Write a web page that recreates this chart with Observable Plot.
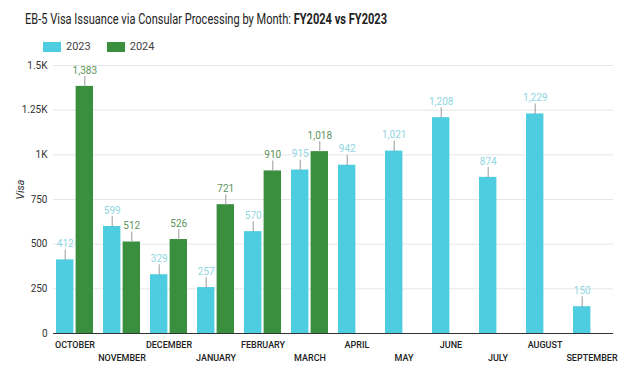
<!DOCTYPE html>
<html>
<head>
<meta charset="utf-8">
<script src="https://cdn.jsdelivr.net/npm/d3@7"></script>
<script src="https://cdn.jsdelivr.net/npm/@observablehq/plot@0.6"></script>
<style>
  body { margin: 0; background: #fff; font-family: Roboto, "Noto Sans", sans-serif; }
  #wrap { position: relative; width: 626px; height: 380px; overflow: hidden; }
  #title { position: absolute; left: 25px; top: 10px; font-size: 15.5px; color: #222; white-space: nowrap; transform-origin: left top; }
  #title b { font-weight: 700; }
  #legend { position: absolute; left: 43px; top: 40px; font-size: 11px; color: #444; display: flex; align-items: center; }
  .sw { display: inline-block; width: 18px; height: 10px; margin-right: 5px; }
  .item { display: flex; align-items: center; margin-right: 16px; }
  #chart { position: absolute; left: 0; top: 55px; }
</style>
</head>
<body>
<div id="wrap">
  <div id="title">EB-5 Visa Issuance via Consular Processing by Month: <b>FY2024 vs FY2023</b></div>
  <div id="legend">
    <div class="item"><span class="sw" style="background:#4ecde0"></span>2023</div>
    <div class="item"><span class="sw" style="background:#3a8f3f"></span>2024</div>
  </div>
  <div id="chart"></div>
</div>
<script>
const months = ["OCTOBER","NOVEMBER","DECEMBER","JANUARY","FEBRUARY","MARCH","APRIL","MAY","JUNE","JULY","AUGUST","SEPTEMBER"];
const series = ["2023","2024"];
const v2023 = [412, 599, 329, 257, 570, 915, 942, 1021, 1208, 874, 1229, 150];
const v2024 = [1383, 512, 526, 721, 910, 1018, null, null, null, null, null, null];
const yTicks = [0, 250, 500, 750, 1000, 1250, 1500];
const yTickLabels = ["0", "250", "500", "750", "1K", "1.25K", "1.5K"];

const colors = ["#4ecde0", "#3a8f3f"];
const labelColors = ["#8fd6e2", "#5d935c"];

const W = 626, ML = 53, MR = 13, PI = 0.21, PO = 0.05, GAP = 1;
const bw = d3.scaleBand(months, [ML, W - MR]).paddingInner(PI).paddingOuter(PO).bandwidth();
const half = bw / 2;

const rows23 = months.map((m, i) => ({month: m, value: v2023[i]}));
const rows24 = months.map((m, i) => ({month: m, value: v2024[i]})).filter(d => d.value != null);

const even = months.filter((d, i) => i % 2 === 0);
const odd = months.filter((d, i) => i % 2 === 1);

const spike = {draw(context, length) { context.moveTo(0, 0); context.lineTo(0, -length); }};
const fmt = d3.format(",");

function seriesMarks(data, k) {
  const off = k === 0 ? -(half + GAP) / 2 : (half + GAP) / 2;
  return [
    Plot.barY(data, {x: "month", y: "value", fill: colors[k],
      insetLeft: k === 0 ? 0 : half + GAP, insetRight: k === 0 ? half + GAP : 0}),
    Plot.vector(data, {x: "month", y: "value", dx: off, length: 10, anchor: "start", shape: spike, stroke: "#9a9a9a", strokeWidth: 1}),
    Plot.text(data, {x: "month", y: "value", dx: off, dy: -16, text: d => fmt(d.value), fontSize: 10, fill: labelColors[k], style: "letter-spacing:-0.3px"})
  ];
}

const chart = Plot.plot({
  width: W,
  height: 325,
  marginTop: 10,
  marginBottom: 47,
  marginLeft: ML,
  marginRight: MR,
  style: {fontFamily: "Roboto, sans-serif", background: "transparent"},
  x: {domain: months, paddingInner: PI, paddingOuter: PO, label: null},
  y: {domain: [0, 1500], label: null},
  marks: [
    Plot.ruleY(yTicks.slice(1), {stroke: "#e6e6e6"}),
    Plot.axisY({ticks: yTicks, tickFormat: (d) => yTickLabels[yTicks.indexOf(d)], tickSize: 0, tickPadding: 6, fontSize: 10, fill: "#333", label: null}),
    ...seriesMarks(rows23, 0),
    ...seriesMarks(rows24, 1),
    Plot.ruleY([0], {stroke: "#333", strokeWidth: 1.2}),
    Plot.axisX({anchor: "bottom", ticks: even, tickSize: 0, tickPadding: 8, fontSize: 9, fontWeight: 500, fill: "#222", label: null, style: "letter-spacing:-0.2px"}),
    Plot.axisX({anchor: "bottom", ticks: odd, tickSize: 0, tickPadding: 21, fontSize: 9, fontWeight: 500, fill: "#222", label: null, style: "letter-spacing:-0.2px"}),
    Plot.text(["Visa"], {frameAnchor: "left", dx: -33, rotate: -90, fontStyle: "italic", fontSize: 10.5, fill: "#333"})
  ]
});
document.getElementById("chart").append(chart);

const t = document.getElementById("title");
const w = t.getBoundingClientRect().width;
t.style.transform = `scaleX(${362 / w})`;
</script>
</body>
</html>
